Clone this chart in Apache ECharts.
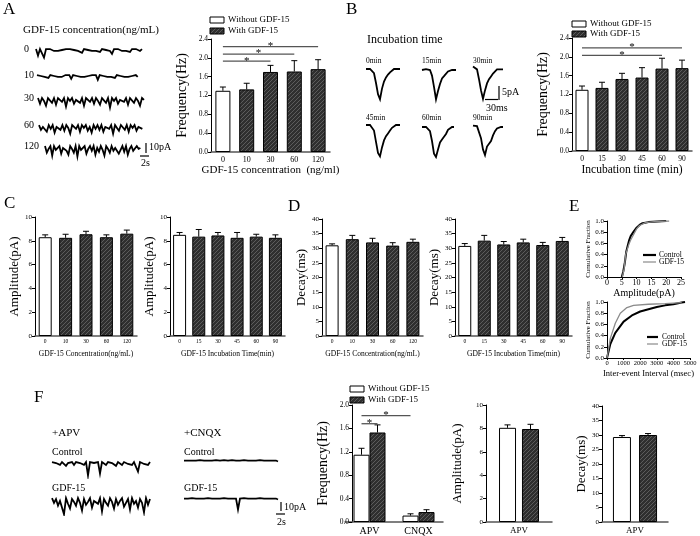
<!DOCTYPE html>
<html><head><meta charset="utf-8">
<script src="https://cdn.jsdelivr.net/npm/echarts@6/dist/echarts.min.js"></script>
<style>html,body{margin:0;padding:0;background:#fff}#c{width:700px;height:536px}</style>
</head><body><div id="c"></div>
<script>
// ---------------- DATA ----------------
const aCats = ['0', '10', '30', '60', '120'];
const aFreq = [1.30, 1.33, 1.70, 1.71, 1.76];
const aFreqErr = [1.38, 1.46, 1.84, 1.94, 1.96];
const aSig = [[0, 4, 2.24], [0, 3, 2.08], [0, 2, 1.93]];

const bCats = ['0', '15', '30', '45', '60', '90'];
const bFreq = [1.30, 1.34, 1.53, 1.56, 1.75, 1.76];
const bFreqErr = [1.38, 1.46, 1.65, 1.77, 1.97, 1.93];
const bSig = [[0, 5, 2.19], [0, 4, 2.03]];

const cAmpConc = [8.3, 8.25, 8.55, 8.3, 8.6];
const cAmpConcErr = [8.5, 8.55, 8.8, 8.5, 8.9];
const cAmpTime = [8.5, 8.35, 8.45, 8.25, 8.35, 8.25];
const cAmpTimeErr = [8.7, 8.95, 8.7, 8.7, 8.55, 8.5];

const dDecayConc = [31.0, 33.1, 32.0, 30.9, 32.2];
const dDecayConcErr = [31.5, 34.4, 33.4, 31.9, 33.1];
const dDecayTime = [30.8, 32.6, 31.3, 32.0, 31.1, 32.5];
const dDecayTimeErr = [31.6, 34.4, 32.3, 33.1, 32.0, 33.7];

const eAmpControl = [[5, 0], [5.5, 0.1], [6, 0.25], [6.5, 0.45], [7, 0.56], [7.5, 0.66], [8, 0.73], [9, 0.81], [10, 0.88], [11, 0.93], [12, 0.96], [14, 0.98], [17, 0.99], [20, 1.0]];
const eAmpGdf = [[5.2, 0], [5.8, 0.15], [6.3, 0.4], [7, 0.52], [7.5, 0.6], [8, 0.66], [9, 0.76], [10, 0.86], [11, 0.92], [13, 0.97], [16, 0.99], [21, 1.0]];
const eIntControl = [[0, 0], [200, 0.25], [500, 0.45], [1000, 0.65], [1500, 0.76], [2000, 0.83], [2500, 0.87], [3000, 0.91], [3500, 0.94], [4000, 0.96], [4500, 0.99], [4700, 1.0]];
const eIntGdf = [[0, 0], [200, 0.35], [500, 0.62], [800, 0.8], [1200, 0.9], [1600, 0.94], [2500, 0.96], [3500, 0.97], [4500, 0.99]];

const fCats = ['APV', 'CNQX'];
const fFreqWithout = [1.15, 0.11];
const fFreqWithoutErr = [1.26, 0.14];
const fFreqWith = [1.53, 0.17];
const fFreqWithErr = [1.66, 0.21];
const fSig = [[0, 0, 0, 1, 1.68], [0, 0, 1, 0, 1.82]];
const fAmpWithout = [8.05], fAmpWithoutErr = [8.3];
const fAmpWith = [7.95], fAmpWithErr = [8.35];
const fDecayWithout = [29.3], fDecayWithoutErr = [29.8];
const fDecayWith = [30.0], fDecayWithErr = [30.5];

// recorded traces (pA, baseline 0)
const traceA0 = [1,-6,1,-1,-8,1,-1,1,0,-1,1,-1,1,0,-2,1,-1,1,-1,0,1,-1,1,-3,1,-1,0,1,-1,1,-1,1,-2,1,-1,0,1,-1,-4,1,-1,1,0,-1,1,-1,1,-2,1,-1,1,0,-1,1];
const traceA10 = [1,-1,0,1,-1,1,-2,1,-1,0,1,-1,1,-1,0,1,-1,1,-3,1,-1,0,1,-1,1,-1,1,0,-1,1,-1,1,-4,1,-1,0,1,-1,1,-1,1,-2,1,-1,0,1,-1,1,-1,1,0,-1,1,-1];
const traceA30 = [1,-5,1,-2,-7,1,-1,-4,1,-6,1,-1,-3,1,-8,1,-2,1,-5,-1,1,-4,1,-7,1,-1,-3,1,-5,1,-2,-6,1,-1,-4,1,-9,1,-2,1,-5,-1,1,-3,1,-6,1,-1,-4,1,-2,-7,1,-1];
const traceA60 = [1,-4,-1,1,-6,1,-3,1,-7,-1,1,-4,1,-5,1,-2,-8,1,-1,-3,1,-6,1,-2,1,-5,-1,-7,1,-3,1,-4,1,-6,-1,1,-3,1,-8,1,-2,-5,1,-1,-4,1,-6,1,-2,1,-5,-1,1,-3];
const traceA120 = [1,-6,-2,1,-9,1,-3,-5,1,-7,-1,1,-4,-8,1,-2,-6,1,-10,1,-3,-5,1,-7,-2,1,-4,1,-8,-1,-5,1,-3,-9,1,-2,-6,1,-4,-1,1,-7,-3,1,-5,1,-8,-2,1,-4,-6,1,-2,-1];
const waveB0 = [0,0,0,0.2,-1.5,-5,-9,-10.8,-7,-4.5,-3,-2,-1.2,-0.5,0,0,0,0];
const waveB15 = [0,0,0.3,0,0,-2,-6,-10.5,-7.5,-5,-3,-2.2,-1.5,-0.5,0,0,0,0];
const waveB30 = [0.5,0.5,-0.5,-4,-8,-11,-8,-5.5,-4,-3,-2,-1.5,-0.5,-0.5,-0.5,-0.5];
const waveB45 = [0,0,0,0,-2,-6,-10,-11.2,-8,-5.5,-4,-3,-2,-1,-0.3,0,0,0];
const waveB60 = [0,0,0,0,-1.5,-5,-9.5,-10.7,-8,-5.5,-4.5,-3.5,-2.5,-1,-0.5,0,0];
const waveB90 = [0.5,0,0.3,-0.3,-4,-8,-10,-7,-6.5,-5,-3,-1.5,-0.5,0,0,0];
const traceFApvCtl = [1,-1,0,1,-2,1,-1,-3,0,-1,1,-2,1,-1,0,1,-2,1,-13,1,-1,0,-2,1,-11,1,-1,-2,1,-1,0,1,-3,1,-1,-2,1,0,-1,1,-2,1,-1,-9,1,0,-1,1,-2,1];
const traceFApvGdf = [2,-3,1,-6,-1,1,-15,2,-4,-9,1,-2,-6,2,-3,-11,1,-5,-2,2,-8,-1,1,-4,2,-12,1,-3,-6,2,-2,-9,1,-5,-1,2,-7,-3,1,-10,2,-4,-1,-8,1,-3,-13,2,-5,1];
const traceFCnqxCtl = [0.5,-0.5,0.5,-1,0.5,-0.5,0.5,-0.5,1,-0.5,0.5,-1,0.5,-0.5,0.5,-0.5,1,-0.5,0.5,-0.5,1,-1,0.5,-0.5,1,-0.5,0.5,-1,0.5,-0.5,1,-0.5,0.5,-0.5,0.5,-1,0.5,-0.5,1,-0.5,0.5,-0.5,0.5,-1,0.5,-0.5,0.5,-0.5];
const traceFCnqxGdf = [0.5,-0.5,0.5,-0.5,1,-0.5,0.5,-1,0.5,-0.5,0.5,-0.5,1,-0.5,0.5,-0.5,0.5,-1,0.5,-0.5,1,-0.5,0.5,-0.5,0.5,-1,0.5,-11,0.5,-0.5,1,-0.5,0.5,-0.5,0.5,-1,0.5,-0.5,1,-0.5,0.5,-0.5,0.5,-1,0.5,-0.5,0.5,-0.5];

// ---------------- BUILD ----------------
const FONT = '"Liberation Serif","DejaVu Serif","Times New Roman",serif';
const hc = document.createElement('canvas'); hc.width = 4; hc.height = 4;
(function(){ const g = hc.getContext('2d'); g.fillStyle = '#2f2f2f'; g.fillRect(0,0,4,4);
  g.strokeStyle = '#5c5c5c'; g.lineWidth = 1; g.beginPath(); g.moveTo(0,4); g.lineTo(4,0); g.stroke(); })();
const HATCH = { image: hc, repeat: 'repeat' };

const grids = [], xAxes = [], yAxes = [], series = [], graphics = [];

function txt(x, y, t, size, opts) {
  opts = opts || {};
  graphics.push({ type: 'text', x: x, y: y, silent: true, style: {
    text: t, font: (opts.weight || 'normal') + ' ' + size + 'px ' + FONT, fill: opts.color || '#000',
    textAlign: opts.align || 'left', textVerticalAlign: opts.va || 'middle' } });
}
function seg(x1, y1, x2, y2, w, c) {
  graphics.push({ type: 'line', silent: true, shape: { x1, y1, x2, y2 }, style: { stroke: c || '#000', lineWidth: w || 1 } });
}
function box(x, y, w, h, fill) {
  graphics.push({ type: 'rect', silent: true, shape: { x, y, width: w, height: h }, style: { fill: fill, stroke: '#000', lineWidth: 1 } });
}

function yAx(gi, o) {
  return { type: 'value', gridIndex: gi, min: o.min, max: o.max, interval: o.int,
    axisLine: { show: true, lineStyle: { color: '#000', width: 1 } },
    axisTick: { show: true, length: 3, lineStyle: { color: '#000' } },
    splitLine: { show: false },
    axisLabel: { fontFamily: FONT, fontSize: o.ls, color: '#000', margin: 3, formatter: o.fmt },
    name: o.name, nameLocation: 'middle', nameGap: o.ng, nameRotate: 90,
    nameTextStyle: { fontFamily: FONT, fontSize: o.ns, color: '#000' } };
}

function errRender(offset) {
  return function (params, api) {
    const p1 = api.coord([api.value(0), api.value(1)]);
    const p2 = api.coord([api.value(0), api.value(2)]);
    const x = p1[0] + offset;
    return { type: 'group', children: [
      { type: 'line', shape: { x1: x, y1: p1[1], x2: x, y2: p2[1] }, style: { stroke: '#000', lineWidth: 1 } },
      { type: 'line', shape: { x1: x - 3, y1: p2[1], x2: x + 3, y2: p2[1] }, style: { stroke: '#000', lineWidth: 1 } } ] };
  };
}
function sigRender(offsets) {
  return function (params, api) {
    const a = api.coord([api.value(0), api.value(4)]);
    const b = api.coord([api.value(2), api.value(4)]);
    const x1 = a[0] + offsets[api.value(1)], x2 = b[0] + offsets[api.value(3)];
    return { type: 'group', children: [
      { type: 'line', shape: { x1: x1, y1: a[1], x2: x2, y2: a[1] }, style: { stroke: '#555', lineWidth: 1.3 } },
      { type: 'text', x: (x1 + x2) / 2, y: a[1] + 5, style: { text: '*', font: '11px ' + FONT, fill: '#000', textAlign: 'center', textVerticalAlign: 'bottom' } } ] };
  };
}

function addBarChart(c) {
  const gi = grids.length;
  grids.push({ left: c.left, top: c.top, width: c.width, height: c.height });
  xAxes.push({ type: 'category', gridIndex: gi, data: c.cats,
    axisLine: { lineStyle: { color: '#555', width: 1.5 } }, axisTick: { show: false },
    axisLabel: { fontFamily: FONT, fontSize: c.xls, color: '#000', margin: c.xlm || 4 },
    name: c.xName, nameLocation: 'middle', nameGap: c.xng,
    nameTextStyle: { fontFamily: FONT, fontSize: c.xns, color: '#000' } });
  yAxes.push(yAx(gi, c.y));
  c.groups.forEach(function (g, si) {
    series.push({ type: 'bar', xAxisIndex: gi, yAxisIndex: gi, barWidth: c.bw, barGap: c.gap || '0%',
      itemStyle: { borderColor: '#000', borderWidth: 1 },
      data: g.values.map(function (v, i) { return { value: v, itemStyle: { color: (g.white || (g.firstWhite && i === 0)) ? '#fff' : HATCH } }; }) });
    series.push({ type: 'custom', xAxisIndex: gi, yAxisIndex: gi, z: 5, renderItem: errRender(c.offsets[si]),
      data: g.values.map(function (v, i) { return [i, v, g.errs[i]]; }) });
  });
  if (c.sig) {
    series.push({ type: 'custom', xAxisIndex: gi, yAxisIndex: gi, z: 6, renderItem: sigRender(c.offsets),
      data: c.sig.map(function (s) { return s.length === 3 ? [s[0], 0, s[1], 0, s[2]] : s; }) });
  }
}

function addTrace(x, yBase, vals, step, scale, lw) {
  const gi = grids.length;
  const yMax = 4, yMin = -16;
  grids.push({ left: x, top: yBase - yMax * scale, width: (vals.length - 1) * step, height: (yMax - yMin) * scale });
  xAxes.push({ type: 'value', gridIndex: gi, min: 0, max: vals.length - 1, show: false });
  yAxes.push({ type: 'value', gridIndex: gi, min: yMin, max: yMax, show: false });
  series.push({ type: 'line', xAxisIndex: gi, yAxisIndex: gi, showSymbol: false, symbol: 'none',
    lineStyle: { color: '#000', width: lw, join: 'miter' }, data: vals.map(function (v, i) { return [i, v]; }) });
}

function addCum(c) {
  const gi = grids.length;
  grids.push({ left: c.left, top: c.top, width: c.width, height: c.height });
  xAxes.push({ type: 'value', gridIndex: gi, min: c.xmin, max: c.xmax, interval: c.xint,
    axisLine: { lineStyle: { color: '#000' } }, axisTick: { show: true, length: 2 }, splitLine: { show: false },
    axisLabel: { fontFamily: FONT, fontSize: c.xls, color: '#000', margin: 2, formatter: function (v) { return String(v); } },
    name: c.xName, nameLocation: 'middle', nameGap: c.xng, nameTextStyle: { fontFamily: FONT, fontSize: c.xns, color: '#000' } });
  yAxes.push(yAx(gi, { min: 0, max: 1, int: 0.2, ls: 7, fmt: function (v) { return v.toFixed(1); },
    name: 'Cumulative Fraction', ng: 13, ns: 7 }));
  series.push({ type: 'line', xAxisIndex: gi, yAxisIndex: gi, showSymbol: false, symbol: 'none', z: 3,
    lineStyle: { color: '#000', width: 2 }, data: c.ctl });
  series.push({ type: 'line', xAxisIndex: gi, yAxisIndex: gi, showSymbol: false, symbol: 'none', z: 4,
    lineStyle: { color: '#8a8a8a', width: 1.3 }, data: c.gdf });
}

const f1 = function (v) { return v.toFixed(1); };
const f0 = function (v) { return String(v); };

// ---- Panel A ----
txt(3, 10, 'A', 17);
txt(23, 30, 'GDF-15 concentration(ng/mL)', 11);
const aTraces = [traceA0, traceA10, traceA30, traceA60, traceA120];
const aRowY = [50, 76, 99, 126, 147];
const aRowX = [36, 37, 38, 39, 45];
const aStep = [2.0, 1.9, 2.0, 1.95, 1.8];
aTraces.forEach(function (t, i) {
  txt(24, aRowY[i] - 1, aCats[i], 10);
  addTrace(aRowX[i], aRowY[i], t, aStep[i], 0.95, 1.8);
});
seg(146, 143, 146, 153, 1.2); txt(149, 147, '10pA', 10);
seg(140, 156, 149, 156, 1.2); txt(141, 163, '2s', 10);

addBarChart({ left: 211, top: 39, width: 119, height: 113, cats: aCats, bw: 15, offsets: [0],
  xls: 8, xName: 'GDF-15 concentration  (ng/ml)', xng: 11, xns: 11,
  y: { min: 0, max: 2.4, int: 0.4, ls: 7.5, fmt: f1, name: 'Frequency(Hz)', ng: 22, ns: 14 },
  groups: [{ values: aFreq, errs: aFreqErr, firstWhite: true }], sig: aSig });
box(210, 17, 14, 6, '#fff'); txt(228, 20, 'Without GDF-15', 9);
box(210, 28, 14, 6, HATCH); txt(228, 31, 'With GDF-15', 9);

// ---- Panel B ----
txt(346, 10, 'B', 17);
txt(367, 40, 'Incubation time', 12);
const bWaves = [waveB0, waveB15, waveB30, waveB45, waveB60, waveB90];
const bLabels = ['0min', '15min', '30min', '45min', '60min', '90min'];
const bX = [366, 422, 473, 366, 422, 473];
const bY = [69, 70, 68, 125, 127, 127];
const bLblY = [61, 61, 61, 118, 118, 118];
bWaves.forEach(function (w, i) {
  txt(bX[i], bLblY[i], bLabels[i], 7.5);
  addTrace(bX[i], bY[i], w, 2, 2.8, 1.8);
});
seg(499, 86, 499, 100, 1.2); txt(502, 92, '5pA', 10);
seg(485, 99.5, 498, 99.5, 1.2); txt(486, 108, '30ms', 10);

addBarChart({ left: 572, top: 38, width: 120, height: 113, cats: bCats, bw: 13, offsets: [0],
  xls: 7.5, xName: 'Incubation time (min)', xng: 11, xns: 11.5,
  y: { min: 0, max: 2.4, int: 0.4, ls: 7.5, fmt: f1, name: 'Frequency(Hz)', ng: 22, ns: 14 },
  groups: [{ values: bFreq, errs: bFreqErr, firstWhite: true }], sig: bSig });
box(572, 21, 14, 6, '#fff'); txt(590, 24, 'Without GDF-15', 9);
box(572, 31, 14, 6, HATCH); txt(590, 34, 'With GDF-15', 9);

// ---- Panel C ----
txt(4, 204, 'C', 17);
addBarChart({ left: 35, top: 217, width: 102, height: 119, cats: aCats, bw: 13, offsets: [0],
  xls: 5.5, xlm: 3, xName: 'GDF-15 Concentration(ng/mL)', xng: 14, xns: 7.5,
  y: { min: 0, max: 10, int: 2, ls: 7, fmt: f0, name: 'Amplitude(pA)', ng: 12, ns: 13 },
  groups: [{ values: cAmpConc, errs: cAmpConcErr, firstWhite: true }] });
addBarChart({ left: 170, top: 217, width: 115, height: 119, cats: bCats, bw: 13, offsets: [0],
  xls: 5.5, xlm: 3, xName: 'GDF-15 Incubation Time(min)', xng: 14, xns: 7.5,
  y: { min: 0, max: 10, int: 2, ls: 7, fmt: f0, name: 'Amplitude(pA)', ng: 12, ns: 13 },
  groups: [{ values: cAmpTime, errs: cAmpTimeErr, firstWhite: true }] });

// ---- Panel D ----
txt(288, 207, 'D', 17);
addBarChart({ left: 322, top: 219, width: 101, height: 117, cats: aCats, bw: 13, offsets: [0],
  xls: 5.5, xlm: 3, xName: 'GDF-15 Concentration(ng/mL)', xng: 14, xns: 7.5,
  y: { min: 0, max: 40, int: 5, ls: 7, fmt: f0, name: 'Decay(ms)', ng: 12, ns: 13 },
  groups: [{ values: dDecayConc, errs: dDecayConcErr, firstWhite: true }] });
addBarChart({ left: 455, top: 219, width: 117, height: 117, cats: bCats, bw: 13, offsets: [0],
  xls: 5.5, xlm: 3, xName: 'GDF-15 Incubation Time(min)', xng: 14, xns: 7.5,
  y: { min: 0, max: 40, int: 5, ls: 7, fmt: f0, name: 'Decay(ms)', ng: 13, ns: 13 },
  groups: [{ values: dDecayTime, errs: dDecayTimeErr, firstWhite: true }] });

// ---- Panel E ----
txt(569, 207, 'E', 17);
addCum({ left: 607, top: 221, width: 74, height: 56, xmin: 0, xmax: 25, xint: 5, xls: 8,
  xName: 'Amplitude(pA)', xng: 11, xns: 10, ctl: eAmpControl, gdf: eAmpGdf });
addCum({ left: 607, top: 302, width: 83, height: 56, xmin: 0, xmax: 5000, xint: 1000, xls: 6.5,
  xName: 'Inter-event Interval (msec)', xng: 11, xns: 8.5, ctl: eIntControl, gdf: eIntGdf });
seg(643, 255, 656, 255, 2.2); txt(659, 255, 'Control', 7.5);
seg(643, 262, 656, 262, 1.2, '#8a8a8a'); txt(659, 262, 'GDF-15', 7.5);
seg(647, 337, 658, 337, 2.2); txt(662, 337, 'Control', 7.5);
seg(647, 344, 658, 344, 1.2, '#8a8a8a'); txt(662, 344, 'GDF-15', 7.5);

// ---- Panel F ----
txt(34, 398, 'F', 17);
txt(52, 433, '+APV', 11); txt(184, 433, '+CNQX', 11);
txt(52, 452, 'Control', 10); txt(184, 452, 'Control', 10);
txt(52, 488, 'GDF-15', 10); txt(184, 488, 'GDF-15', 10);
addTrace(52, 463, traceFApvCtl, 2.0, 0.95, 1.8);
addTrace(52, 500, traceFApvGdf, 2.0, 0.95, 1.8);
addTrace(184, 461, traceFCnqxCtl, 2.0, 0.95, 1.8);
addTrace(184, 499, traceFCnqxGdf, 2.0, 0.95, 1.8);
seg(281, 502, 281, 511, 1.2); txt(284, 507, '10pA', 10);
seg(276, 514, 285, 514, 1.2); txt(277, 522, '2s', 10);

addBarChart({ left: 345, top: 405, width: 98, height: 117, cats: fCats, bw: 16, gap: '0%', offsets: [-8, 8],
  xls: 10, xName: '', xng: 10, xns: 10,
  y: { min: 0, max: 2.0, int: 0.4, ls: 7.5, fmt: f1, name: 'Frequency(Hz)', ng: 22, ns: 14 },
  groups: [{ values: fFreqWithout, errs: fFreqWithoutErr, white: true }, { values: fFreqWith, errs: fFreqWithErr }], sig: fSig });
yAxes[yAxes.length - 1].offset = -7;
box(350, 386, 14, 6, '#fff'); txt(368, 389, 'Without GDF-15', 9);
box(350, 397, 14, 6, HATCH); txt(368, 400, 'With GDF-15', 9);

addBarChart({ left: 486, top: 405, width: 66, height: 117, cats: ['APV'], bw: 17, gap: '35%', offsets: [-11.5, 11.5],
  xls: 9, xName: '', xng: 10, xns: 10,
  y: { min: 0, max: 10, int: 2, ls: 7, fmt: f0, name: 'Amplitude(pA)', ng: 22, ns: 13 },
  groups: [{ values: fAmpWithout, errs: fAmpWithoutErr, white: true }, { values: fAmpWith, errs: fAmpWithErr }] });
addBarChart({ left: 602, top: 406, width: 66, height: 116, cats: ['APV'], bw: 18, gap: '45%', offsets: [-13, 13],
  xls: 9, xName: '', xng: 10, xns: 10,
  y: { min: 0, max: 40, int: 5, ls: 7, fmt: f0, name: 'Decay(ms)', ng: 12, ns: 13 },
  groups: [{ values: fDecayWithout, errs: fDecayWithoutErr, white: true }, { values: fDecayWith, errs: fDecayWithErr }] });

const chart = echarts.init(document.getElementById('c'), null, { renderer: 'canvas' });
chart.setOption({ animation: false, backgroundColor: '#fff', textStyle: { fontFamily: FONT },
  grid: grids, xAxis: xAxes, yAxis: yAxes, series: series, graphic: { elements: graphics } });
</script></body></html>
